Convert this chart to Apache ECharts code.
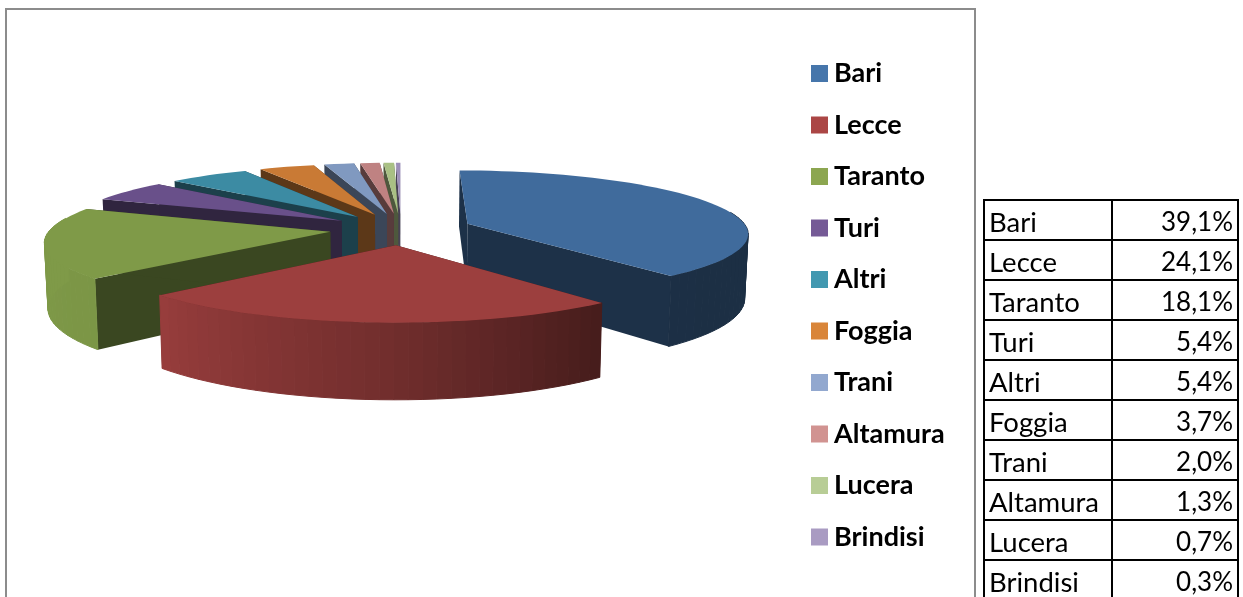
<!DOCTYPE html>
<html>
<head>
<meta charset="utf-8">
<style>html,body{margin:0;padding:0;background:#fff}#c{width:1243px;height:597px}</style>
<script src="https://cdn.jsdelivr.net/npm/echarts@6/dist/echarts.min.js"></script>
</head>
<body>
<div id="c"></div>
<script>
var categories = ['Bari','Lecce','Taranto','Turi','Altri','Foggia','Trani','Altamura','Lucera','Brindisi'];
var values = [39.1,24.1,18.1,5.4,5.4,3.7,2.0,1.3,0.7,0.3];
var tableLabels = ['39,1%','24,1%','18,1%','5,4%','5,4%','3,7%','2,0%','1,3%','0,7%','0,3%'];
var legendColors = ['#4676ab','#ab4645','#8ca650','#755a96','#4298b0','#d98539','#92a8cf','#d19391','#b8cd96','#a99bc2'];
var topColors = ['#406b9c','#9c3f3e','#7f9a48','#69508a','#3c8ba3','#c97a35','#8099c0','#bf8282','#a9c084','#9c8fb8'];
var drawRank = [8,10,9,7,6,5,4,3,2,1];

// projection of the tilted, exploded pie
var X0=401, Y0=229, R=280, K=455, B=7.35, D=64, EXPLODE=0.255;
function proj(u,v,h){
  var s=B/(B+v);
  return [X0+R*u*s*(1-0.01*h), Y0+K*(s-1)+h*D*s];
}
function hex2rgb(c){return [parseInt(c.substr(1,2),16),parseInt(c.substr(3,2),16),parseInt(c.substr(5,2),16)];}
function dark(c,f){var r=hex2rgb(c);return 'rgb('+Math.round(r[0]*f)+','+Math.round(r[1]*f)+','+Math.round(r[2]*f)+')';}
function shade(a){
  var st=[[0,.42],[140,.44],[180,.72],[227,.97],[270,1],[360,1]];
  for(var i=1;i<st.length;i++){ if(a<=st[i][0]){var t=(a-st[i-1][0])/(st[i][0]-st[i-1][0]);return st[i-1][1]+t*(st[i][1]-st[i-1][1]);} }
  return 1;
}
var total=values.reduce(function(a,b){return a+b;},0);
function sliceStart(idx){
  var s=0;for(var i=0;i<idx;i++)s+=values[i];
  return s/total*360;
}
function makeRender(idx){
  return function(params,api){
    var v=api.value(0), a0=sliceStart(idx), a1=a0+v/total*360;
    var rad=Math.PI/180, m=(a0+a1)/2*rad;
    var au=EXPLODE*Math.sin(m), av=EXPLODE*Math.cos(m);
    function rim(a,h){return proj(au+Math.sin(a*rad),av+Math.cos(a*rad),h);}
    var col=topColors[idx], side=dark(col,0.46), kids=[];
    function poly(pts,fill,stroke){
      kids.push({type:'polygon',shape:{points:pts},style:{fill:fill,stroke:stroke||null,lineWidth:stroke?1:0},silent:true});
    }
    function radial(a){poly([proj(au,av,0),rim(a,0),rim(a,1),proj(au,av,1)],side);}
    var step=Math.max((a1-a0)/Math.ceil((a1-a0)/2.5),0.2), a;
    // painter's order: radial walls, camera-facing outer wall, top
    radial(a0);
    radial(a1);
    for(a=a0;a<a1-1e-6;a+=step){
      var b=Math.min(a+step,a1), mid=(a+b)/2;
      if(mid<78||mid>282) continue;
      var c=dark(col,shade(mid));
      poly([rim(a,0),rim(b,0),rim(b,1),rim(a,1)],c,c);
    }
    var top=[proj(au,av,0)];
    for(a=a0;a<a1;a+=step) top.push(rim(a,0));
    top.push(rim(a1,0));
    poly(top,col);
    return {type:'group',children:kids};
  };
}
var series=categories.map(function(n,i){
  return {type:'custom',name:n,coordinateSystem:'none',z:drawRank[i],silent:true,
    itemStyle:{color:legendColors[i]},data:[[values[i]]],renderItem:makeRender(i),animation:false};
});
// table + frame
var g=[{type:'rect',shape:{x:6,y:9,width:969,height:640},style:{fill:'transparent',stroke:'#8c8c8c',lineWidth:2},silent:true,z:0}];
var tx0=984,tx1=1112,tx2=1238,ty=200,rh=40;
categories.forEach(function(n,i){
  var y=ty+i*rh;
  g.push({type:'rect',shape:{x:tx0,y:y,width:tx1-tx0,height:rh},style:{fill:'#fff',stroke:'#000',lineWidth:2},silent:true,z:1});
  g.push({type:'rect',shape:{x:tx1,y:y,width:tx2-tx1,height:rh},style:{fill:'#fff',stroke:'#000',lineWidth:2},silent:true,z:1});
  g.push({type:'text',x:989,y:y+23,style:{text:n,font:'27.5px Lato',fill:'#000',textAlign:'left',textVerticalAlign:'middle'},silent:true,z:2});
  g.push({type:'text',x:1233,y:y+23,style:{text:tableLabels[i],font:'26px Lato',fill:'#000',textAlign:'right',textVerticalAlign:'middle'},silent:true,z:2});
});
var chart=echarts.init(document.getElementById('c'),null,{renderer:'canvas'});
chart.setOption({
  animation:false,
  backgroundColor:'#fff',
  legend:{orient:'vertical',left:806,top:55,icon:'rect',itemWidth:17,itemHeight:17,itemGap:24.5,
    data:categories,selectedMode:false,
    textStyle:{fontFamily:'Lato',fontWeight:'bold',fontSize:27,color:'#000',lineHeight:25,padding:[0,0,0,1]}},
  graphic:{elements:g},
  series:series
});
</script>
</body>
</html>
